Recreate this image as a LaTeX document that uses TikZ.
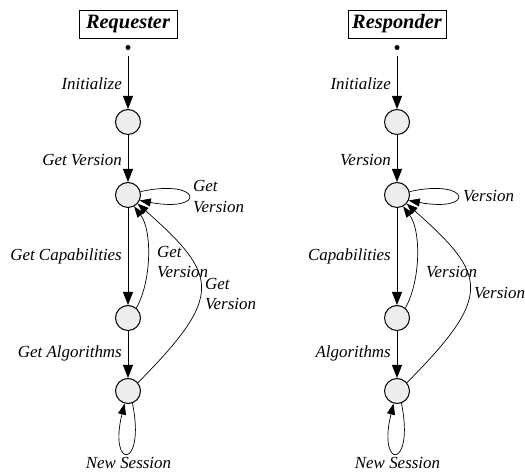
\documentclass[tikz,border=0pt]{standalone}
\usepackage{fontspec}
\setmainfont{Liberation Serif}
\usetikzlibrary{arrows.meta}
\begin{document}
\begin{tikzpicture}[x=1bp,y=1bp,
  state/.style={circle,draw,line width=1bp,fill=black!7,minimum size=25bp,inner sep=0},
  startdot/.style={circle,fill=black,minimum size=5bp,inner sep=0},
  titlebox/.style={draw,line width=0.9bp,minimum width=98bp,minimum height=28bp,inner sep=0,font=\fontsize{20.5}{24}\selectfont\bfseries\itshape},
  lbl/.style={inner sep=0,font=\fontsize{17}{21}\selectfont\itshape,align=left},
  arr/.style={-{Triangle[length=13bp,width=10bp]},line width=0.9bp},
  carr/.style={-{Triangle[length=11bp,width=8bp]},line width=0.7bp},
]
\useasboundingbox (0,0) rectangle (525,475);
% ---------------- Requester ----------------
\begin{scope}
\node[titlebox] (L0) at (128,451) {Requester};
\node[startdot] (Ld) at (128,427.5) {};
\node[state] (L1) at (128,353) {};
\node[state] (L2) at (128,280) {};
\node[state] (L3) at (128,157) {};
\node[state] (L4) at (128,84) {};
\draw[arr,shorten <=6bp] (Ld) -- (L1);
\draw[arr] (L1) -- (L2);
\draw[arr] (L2) -- (L3);
\draw[arr] (L3) -- (L4);
\draw[carr] (L2.15) .. controls (202,297) and (207,262) .. (L2.-25);
\draw[carr] (L3.50) .. controls (152,195) and (152,245) .. (L2.-62);
\draw[carr] (L4.40) .. controls (225,180) and (218,200) .. (L2.-42);
\draw[carr] (L4.-70) .. controls (146,5) and (108,5) .. (L4.-105);
\node[lbl,anchor=east] (La) at (122,391) {Initialize};
\node[lbl,anchor=east] (Lb) at (122,315) {Get Version};
\node[lbl,anchor=west] (Lc) at (193,278.5) {Get\\Version};
\node[lbl,anchor=east] (Le) at (122,219) {Get Capabilities};
\node[lbl,anchor=west] (Lf) at (157,213) {Get\\Version};
\node[lbl,anchor=west] (Lg) at (205,181) {Get\\Version};
\node[lbl,anchor=east] (Lh) at (122,122) {Get Algorithms};
\node[lbl] (Li) at (128.5,12.5) {New Session};
\end{scope}
% ---------------- Responder ----------------
\begin{scope}[xshift=269bp]
\node[titlebox] (R0) at (128,451) {Responder};
\node[startdot] (Rd) at (128,427.5) {};
\node[state] (R1) at (128,353) {};
\node[state] (R2) at (128,280) {};
\node[state] (R3) at (128,157) {};
\node[state] (R4) at (128,84) {};
\draw[arr,shorten <=6bp] (Rd) -- (R1);
\draw[arr] (R1) -- (R2);
\draw[arr] (R2) -- (R3);
\draw[arr] (R3) -- (R4);
\draw[carr] (R2.15) .. controls (202,297) and (207,262) .. (R2.-25);
\draw[carr] (R3.50) .. controls (152,195) and (152,245) .. (R2.-62);
\draw[carr] (R4.40) .. controls (225,180) and (218,200) .. (R2.-42);
\draw[carr] (R4.-70) .. controls (146,5) and (108,5) .. (R4.-105);
\node[lbl,anchor=east] (Ra) at (122,391) {Initialize};
\node[lbl,anchor=east] (Rb) at (122,315) {Version};
\node[lbl,anchor=west] (Rc) at (194,279) {Version};
\node[lbl,anchor=east] (Re) at (122,219) {Capabilities};
\node[lbl,anchor=west] (Rf) at (157,203) {Version};
\node[lbl,anchor=west] (Rg) at (205,181.5) {Version};
\node[lbl,anchor=east] (Rh) at (122,122) {Algorithms};
\node[lbl] (Ri) at (128.5,12.5) {New Session};
\end{scope}
\end{tikzpicture}
\end{document}
